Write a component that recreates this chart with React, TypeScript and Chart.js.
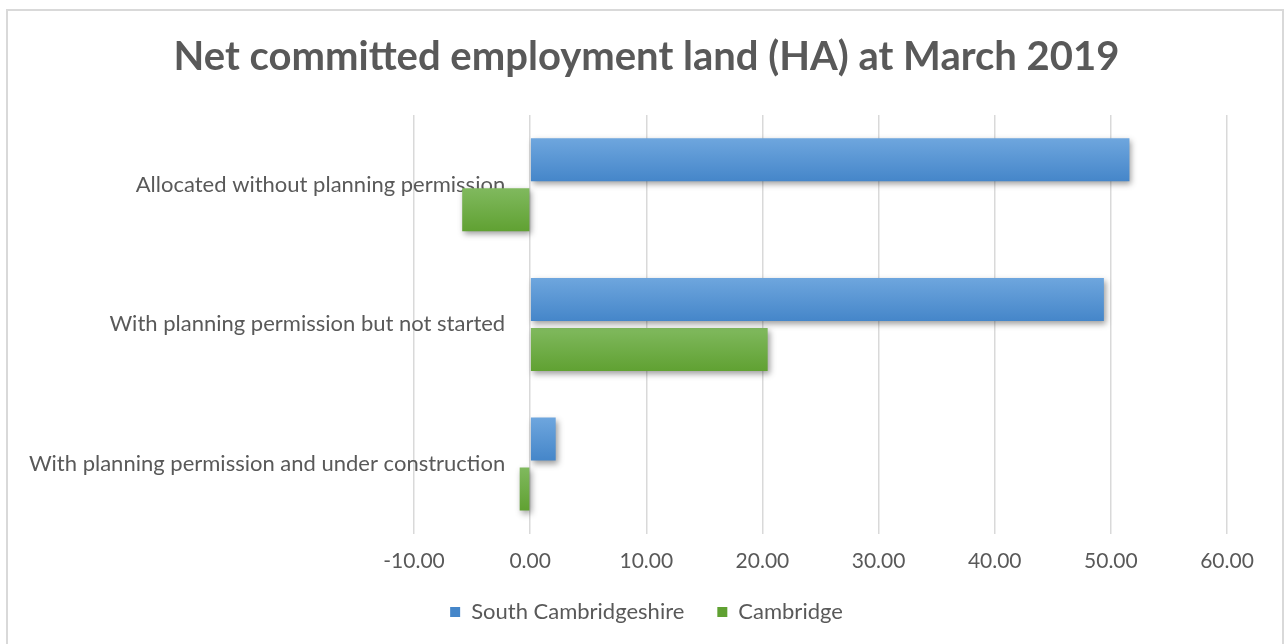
import React, { useEffect, useRef } from "react";
import { Chart, registerables } from "chart.js";

Chart.register(...registerables);

const categories = [
  "Allocated without planning permission",
  "With planning permission but not started",
  "With planning permission and under construction",
];
const southCambridgeshire = [51.6, 49.4, 2.2];
const cambridge = [-5.85, 20.45, -0.9];
const xMin = -10;
const xMax = 60;
const xStep = 10;
// category labels sit just left of the zero line, as in Excel's "next to axis"
const categoryAxisAt = -2.15;

const TEXT = "#595959";
const FONT = "Lato";
const CAT_PCT = 0.716;
const BAR_PCT = 0.86;
const LEGEND_LIFT = 21;

function barGradient(top: string, bottom: string) {
  return (ctx: any) => {
    const chart = ctx.chart;
    const area = chart.chartArea;
    const y = chart.scales?.y;
    if (!area || !y || ctx.dataIndex === undefined) return bottom;
    const catH = area.height / categories.length;
    const group = catH * CAT_PCT;
    const thick = (group / 2) * BAR_PCT;
    const center = y.getPixelForValue(ctx.dataIndex) + (ctx.datasetIndex - 0.5) * (group / 2);
    const g = chart.ctx.createLinearGradient(0, center - thick / 2, 0, center + thick / 2);
    g.addColorStop(0, top);
    g.addColorStop(1, bottom);
    return g;
  };
}

const shadowPlugin = {
  id: "barShadow",
  beforeDatasetsDraw(chart: any) {
    const c = chart.ctx;
    c.save();
    c.shadowColor = "rgba(0,0,0,0.38)";
    c.shadowBlur = 6;
    c.shadowOffsetX = 2;
    c.shadowOffsetY = 3;
  },
  afterDatasetsDraw(chart: any) {
    chart.ctx.restore();
  },
};

const legendLift = {
  id: "legendLift",
  afterLayout(chart: any) {
    const lg = chart.legend;
    if (lg) {
      lg.top -= LEGEND_LIFT;
      lg.bottom -= LEGEND_LIFT;
    }
  },
};

const spacer = (pos: string, w: number) => ({
  type: "category",
  position: pos,
  display: true,
  grid: { display: false, drawTicks: false },
  border: { display: false },
  ticks: { display: false },
  afterFit: (s: any) => {
    s.width = w;
  },
});

export default function App() {
  const ref = useRef<HTMLCanvasElement | null>(null);

  useEffect(() => {
    if (!ref.current) return;
    const chart = new Chart(ref.current, {
      type: "bar",
      data: {
        labels: categories,
        datasets: [
          {
            label: "South Cambridgeshire",
            data: southCambridgeshire,
            backgroundColor: barGradient("#6ea6de", "#4586c9"),
            categoryPercentage: CAT_PCT,
            barPercentage: BAR_PCT,
            borderWidth: 0,
          },
          {
            label: "Cambridge",
            data: cambridge,
            backgroundColor: barGradient("#80b95e", "#60a132"),
            categoryPercentage: CAT_PCT,
            barPercentage: BAR_PCT,
            borderWidth: 0,
          },
        ],
      },
      options: {
        indexAxis: "y",
        responsive: false,
        animation: false,
        layout: { padding: { left: 8, right: 0, top: 0, bottom: -10 } },
        scales: {
          x: {
            min: xMin,
            max: xMax,
            grid: { color: "#d9d9d9", lineWidth: 1.5, drawTicks: false },
            border: { display: false },
            ticks: {
              stepSize: xStep,
              padding: 15,
              color: TEXT,
              font: { family: FONT, size: 21 },
              callback: (v: any) => Number(v).toFixed(2),
            },
          },
          y: {
            type: "category",
            position: { x: categoryAxisAt } as any,
            grid: { display: false, drawTicks: false },
            border: { display: false },
            ticks: {
              padding: 0,
              color: TEXT,
              font: { family: FONT, size: 22 },
            },
          },
          yl: spacer("left", 406) as any,
          yr: spacer("right", 58) as any,
        },
        plugins: {
          title: {
            display: true,
            text: "Net committed employment land (HA) at March 2019",
            color: TEXT,
            font: { family: FONT, size: 40, weight: "bold" },
            padding: { top: 33, bottom: 34 },
          },
          legend: {
            position: "bottom",
            labels: {
              color: TEXT,
              font: { family: FONT, size: 22 },
              boxWidth: 10,
              boxHeight: 10,
              padding: 33,
            },
          },
          tooltip: { enabled: false },
        },
      },
      plugins: [shadowPlugin, legendLift],
    });
    return () => chart.destroy();
  }, []);

  return (
    <div
      style={{
        position: "fixed",
        left: 0,
        top: 0,
        width: 1285,
        height: 644,
        background: "#fff",
        overflow: "hidden",
      }}
    >
      <div
        style={{
          position: "absolute",
          left: 6,
          top: 9,
          width: 1278,
          height: 660,
          border: "2px solid #d9d9d9",
          boxSizing: "border-box",
        }}
      />
      <canvas
        ref={ref}
        width={1285}
        height={644}
        style={{ position: "absolute", left: 0, top: 0, width: 1285, height: 644 }}
      />
    </div>
  );
}
